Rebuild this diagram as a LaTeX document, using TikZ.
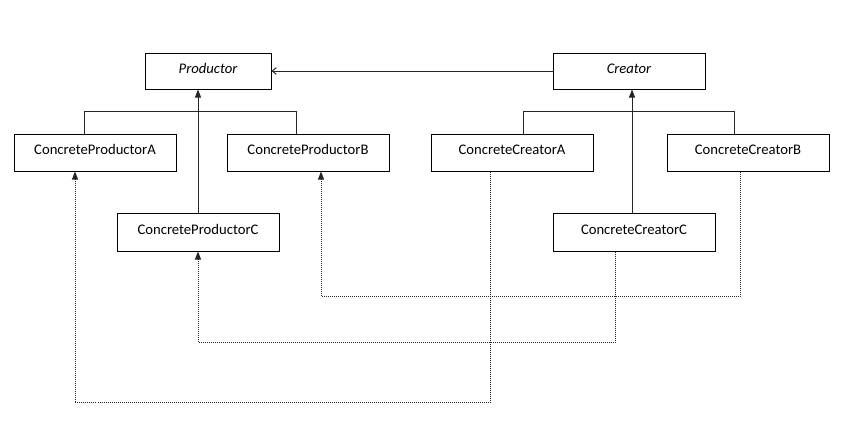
\documentclass[tikz,border=0pt]{standalone}
\usepackage{fontspec}
\setmainfont{Carlito}
\usetikzlibrary{arrows.meta}
\begin{document}
\begin{tikzpicture}[x=0.75pt,y=-0.75pt,
  box/.style={draw=black,line width=0.75pt,inner sep=0pt,minimum width=162*0.75pt,minimum height=37*0.75pt,font=\fontsize{11}{13}\selectfont,text height=1.6ex,text depth=0.9ex},
  ln/.style={draw=black!85,line width=0.75pt},
  inh/.style={ln,-{Triangle[length=6pt,width=4.5pt]}},
  assoc/.style={ln,-{Straight Barb[length=3pt,width=5pt]}},
  dep/.style={draw=black!85,line width=0.75pt,dash pattern=on 0.75pt off 0.75pt,-{Triangle[length=6pt,width=4.5pt]}}]
\useasboundingbox (0,0) rectangle (862,429);
% abstract classes
\node[box,minimum width=126*0.75pt,minimum height=36*0.75pt,font=\fontsize{11}{13}\selectfont\itshape] (prod) at (208,71) {Productor};
\node[box,minimum width=152*0.75pt,minimum height=36*0.75pt,font=\fontsize{11}{13}\selectfont\itshape] (crea) at (629,71) {Creator};
% concrete productors
\node[box] (cpa) at (95,152.5) {ConcreteProductorA};
\node[box] (cpb) at (308,152.5) {ConcreteProductorB};
\node[box,minimum height=38*0.75pt] (cpc) at (198,232) {ConcreteProductorC};
% concrete creators
\node[box] (cca) at (512,152.5) {ConcreteCreatorA};
\node[box] (ccb) at (748,152.5) {ConcreteCreatorB};
\node[box,minimum height=38*0.75pt] (ccc) at (634,232) {ConcreteCreatorC};
% association Creator -> Productor
\draw[assoc] (crea.west) -- (prod.east);
% productor hierarchy
\coordinate (pbl) at (84,111);
\coordinate (pbr) at (296,111);
\coordinate (pbx) at (198,111);
\draw[ln] (cpa.north -| pbl) -- (pbl) -- (pbr) -- (cpb.north -| pbr);
\draw[inh] (cpc.north -| pbx) -- (prod.south -| pbx);
% creator hierarchy
\coordinate (cbl) at (523,111);
\coordinate (cbr) at (734,111);
\coordinate (cbx) at (632,111);
\draw[ln] (cca.north -| cbl) -- (cbl) -- (cbr) -- (ccb.north -| cbr);
\draw[inh] (ccc.north -| cbx) -- (crea.south -| cbx);
% dependencies
\coordinate (d1a) at (490,402);
\coordinate (d1b) at (75,402);
\draw[dep] (cca.south -| d1a) -- (d1a) -- (d1b) -- (cpa.south -| d1b);
\coordinate (d2a) at (740,296);
\coordinate (d2b) at (321,296);
\draw[dep] (ccb.south -| d2a) -- (d2a) -- (d2b) -- (cpb.south -| d2b);
\coordinate (d3a) at (615,342);
\coordinate (d3b) at (198,342);
\draw[dep] (ccc.south -| d3a) -- (d3a) -- (d3b) -- (cpc.south -| d3b);
\end{tikzpicture}
\end{document}
